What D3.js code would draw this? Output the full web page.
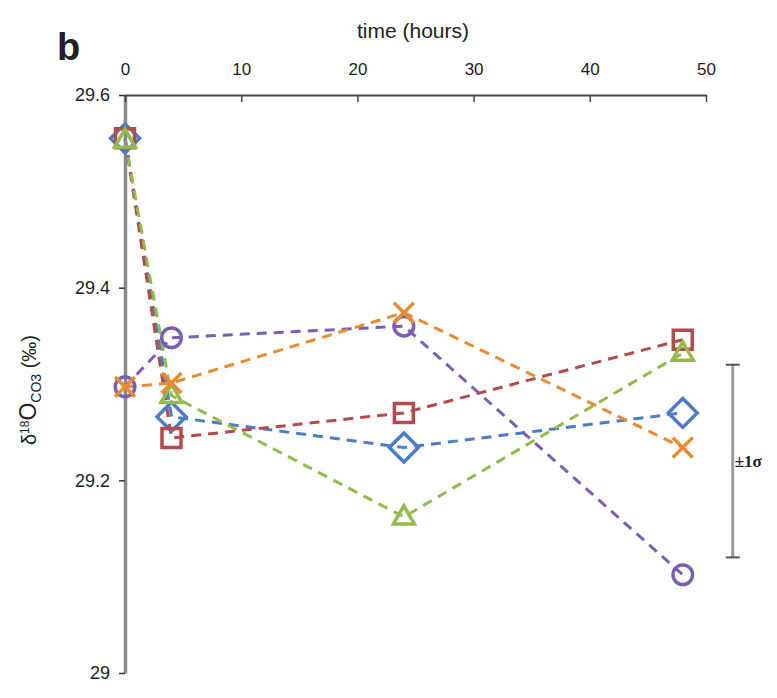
<!DOCTYPE html>
<html>
  <head>
    <style>
      body {
        margin: 0;
        background: #fff;
      }
      svg text {
        font-family: "Liberation Sans", Arial, sans-serif;
        fill: #222;
      }
    </style>
    <script src="https://d3js.org/d3.v7.min.js"></script>
  </head>
  <body>
    <script>
      const width = 777;
      const height = 698;

      // data
      const hours = [0, 4, 24, 48];
      const diamondVals = [29.555, 29.266, 29.234, 29.27];
      const squareVals = [29.555, 29.244, 29.27, 29.346];
      const circleVals = [29.297, 29.348, 29.36, 29.102];
      const triangleVals = [29.553, 29.288, 29.162, 29.332];
      const crossVals = [29.297, 29.301, 29.374, 29.234];

      const xTicks = [0, 10, 20, 30, 40, 50];
      const yTicks = [29, 29.2, 29.4, 29.6];
      const yTickLabels = ["29", "29.2", "29.4", "29.6"];

      // ±1σ bar
      const sigmaX = 52.3;
      const sigmaRange = [29.12, 29.32];

      const series = [
        { name: "diamond", vals: diamondVals, color: "#4c7cc6" },
        { name: "square", vals: squareVals, color: "#b34a4b" },
        { name: "circle", vals: circleVals, color: "#7a5db5" },
        { name: "triangle", vals: triangleVals, color: "#93bb4c" },
        { name: "cross", vals: crossVals, color: "#e98a30" },
      ];

      const svg = d3
        .select("body")
        .append("svg")
        .attr("width", width)
        .attr("height", height);

      const xScale = d3.scaleLinear().domain([0, 50]).range([125, 706]);
      const yScale = d3.scaleLinear().domain([29, 29.6]).range([673, 95]);

      // lines
      const line = d3
        .line()
        .x((d, i) => xScale(hours[i]))
        .y((d) => yScale(d));

      series.forEach((s) => {
        svg
          .append("path")
          .attr("d", line(s.vals))
          .attr("fill", "none")
          .attr("stroke", s.color)
          .attr("stroke-width", 3)
          .attr("stroke-dasharray", "10,7");
      });

      // y axis (gray, left)
      const yAxis = d3
        .axisLeft(yScale)
        .tickValues(yTicks)
        .tickFormat((d, i) => yTickLabels[i])
        .tickSizeInner(6)
        .tickSizeOuter(0)
        .tickPadding(9);

      const gy = svg
        .append("g")
        .attr("transform", "translate(" + xScale(0) + ",0)")
        .call(yAxis);
      gy.select(".domain").attr("stroke", "#8a8a8a").attr("stroke-width", 3.5);
      gy.selectAll(".tick line").attr("stroke", "#333").attr("stroke-width", 1.5);
      gy.selectAll(".tick text").style("font-size", "18px").attr("fill", "#222");

      // x axis (top)
      const xAxis = d3
        .axisTop(xScale)
        .tickValues(xTicks)
        .tickSizeInner(-7)
        .tickSizeOuter(0)
        .tickPadding(20);

      const gx = svg
        .append("g")
        .attr("transform", "translate(0," + yScale(29.6) + ")")
        .call(xAxis);
      gx.select(".domain").attr("stroke", "#444").attr("stroke-width", 2);
      gx.selectAll(".tick line").attr("stroke", "#444").attr("stroke-width", 1.5);
      gx.selectAll(".tick text").style("font-size", "17px").attr("fill", "#222");

      // markers
      const symbols = {
        diamond: d3.symbol().type(d3.symbolSquare).size(420),
        square: d3.symbol().type(d3.symbolSquare).size(360),
        circle: d3.symbol().type(d3.symbolCircle).size(300),
        triangle: d3.symbol().type(d3.symbolTriangle).size(190),
        cross: d3.symbol().type(d3.symbolTimes).size(260),
      };

      series.forEach((s) => {
        svg
          .append("g")
          .selectAll("path")
          .data(s.vals)
          .enter()
          .append("path")
          .attr("d", symbols[s.name]())
          .attr("transform", (d, i) => {
            let t = "translate(" + xScale(hours[i]) + "," + yScale(d) + ")";
            if (s.name === "diamond") t += " rotate(45)";
            if (s.name === "triangle") t += " translate(0,1)";
            return t;
          })
          .attr("fill", "none")
          .attr("stroke", s.color)
          .attr("stroke-width", 3.5);
      });

      // ±1σ error bar
      const sx = xScale(sigmaX);
      svg
        .append("line")
        .attr("x1", sx)
        .attr("x2", sx)
        .attr("y1", yScale(sigmaRange[0]))
        .attr("y2", yScale(sigmaRange[1]))
        .attr("stroke", "#9a9a9a")
        .attr("stroke-width", 3);
      sigmaRange.forEach((v) => {
        svg
          .append("line")
          .attr("x1", sx - 7)
          .attr("x2", sx + 7)
          .attr("y1", yScale(v))
          .attr("y2", yScale(v))
          .attr("stroke", "#555")
          .attr("stroke-width", 2);
      });
      svg
        .append("text")
        .attr("x", sx + 2)
        .attr("y", yScale((sigmaRange[0] + sigmaRange[1]) / 2) + 6)
        .style("font-family", "'Liberation Serif', serif")
        .style("font-size", "17px")
        .style("font-weight", "bold")
        .text("±1σ");

      // axis title on top
      svg
        .append("text")
        .attr("x", 413)
        .attr("y", 38)
        .attr("text-anchor", "middle")
        .style("font-size", "21px")
        .text("time (hours)");

      // panel letter
      svg
        .append("text")
        .attr("x", 57)
        .attr("y", 60)
        .style("font-size", "38px")
        .style("font-weight", "bold")
        .text("b");

      // y label
      const ylab = svg
        .append("text")
        .attr("transform", "translate(36,390) rotate(-90)")
        .attr("text-anchor", "middle")
        .style("font-size", "20px");
      ylab.append("tspan").text("δ");
      ylab.append("tspan").attr("dy", -7).style("font-size", "12px").text("18");
      ylab.append("tspan").attr("dy", 7).style("font-size", "23px").text("O");
      ylab.append("tspan").attr("dy", 5).style("font-size", "14px").text("CO3");
      ylab.append("tspan").attr("dy", -5).text(" (‰)");
    </script>
  </body>
</html>
